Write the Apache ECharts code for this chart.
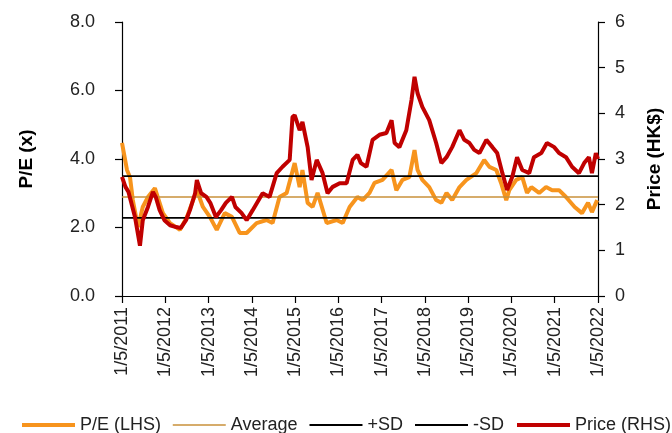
<!DOCTYPE html>
<html>
<head>
<meta charset="utf-8">
<script src="https://cdn.jsdelivr.net/npm/echarts@6/dist/echarts.min.js"></script>
<style>
html,body{margin:0;padding:0;background:#fff;}
#chart{width:672px;height:433px;}
</style>
</head>
<body>
<div id="chart"></div>
<script>
// ---- data (x = years since 1/5/2011) ----
const xTickLabels = ['1/5/2011','1/5/2012','1/5/2013','1/5/2014','1/5/2015','1/5/2016','1/5/2017','1/5/2018','1/5/2019','1/5/2020','1/5/2021','1/5/2022'];

const peYears = [0.00,0.115,0.185,0.25,0.37,0.48,0.60,0.76,0.945,1.11,1.34,1.50,1.73,1.87,2.03,2.19,2.375,2.54,2.72,2.88,3.11,3.34,3.48,3.64,3.805,3.99,4.105,4.17,4.29,4.405,4.52,4.73,4.96,5.10,5.26,5.44,5.56,5.72,5.835,6.02,6.23,6.34,6.48,6.64,6.76,6.83,6.94,7.10,7.26,7.38,7.50,7.63,7.80,7.96,8.19,8.37,8.49,8.65,8.76,8.88,8.95,9.11,9.25,9.36,9.46,9.64,9.80,9.94,10.10,10.26,10.46,10.63,10.77,10.86,10.98];
const peValues = [4.47,3.68,3.47,2.80,2.01,2.60,2.89,3.15,2.42,2.13,1.93,2.31,3.09,2.60,2.31,1.93,2.42,2.31,1.84,1.84,2.13,2.22,2.13,2.89,3.01,3.88,3.18,3.68,2.72,2.60,3.01,2.13,2.22,2.13,2.60,2.89,2.80,3.01,3.30,3.39,3.68,3.09,3.39,3.47,4.26,3.68,3.39,3.18,2.80,2.72,3.01,2.80,3.18,3.39,3.59,3.97,3.77,3.68,3.30,2.80,3.09,3.39,3.47,3.01,3.18,3.01,3.18,3.09,3.09,2.89,2.60,2.42,2.72,2.45,2.80];

const priceYears = [0.00,0.08,0.15,0.21,0.30,0.415,0.48,0.60,0.715,0.78,0.87,0.98,1.11,1.25,1.36,1.48,1.57,1.69,1.73,1.83,1.95,2.04,2.17,2.29,2.40,2.54,2.62,2.76,2.88,3.02,3.25,3.41,3.575,3.71,3.875,3.94,3.99,4.105,4.17,4.29,4.38,4.50,4.635,4.75,4.87,5.03,5.19,5.33,5.44,5.52,5.65,5.79,5.95,6.11,6.23,6.30,6.41,6.57,6.69,6.76,6.83,6.94,7.10,7.26,7.38,7.50,7.63,7.80,7.91,8.03,8.14,8.26,8.42,8.56,8.67,8.79,8.90,9.02,9.13,9.25,9.41,9.52,9.69,9.82,9.99,10.10,10.26,10.40,10.56,10.68,10.79,10.86,10.95,11.0];
const priceValues = [2.61,2.39,2.28,2.06,1.73,1.10,1.66,1.95,2.28,2.17,1.88,1.66,1.55,1.51,1.49,1.66,1.88,2.25,2.54,2.25,2.17,2.04,1.73,1.88,2.04,2.17,1.95,1.82,1.66,1.88,2.25,2.17,2.69,2.83,2.98,3.92,3.96,3.63,3.81,3.26,2.54,2.98,2.69,2.25,2.39,2.47,2.47,2.98,3.09,2.91,2.83,3.42,3.53,3.57,3.85,3.35,3.26,3.63,4.29,4.80,4.44,4.14,3.85,3.35,2.91,3.04,3.26,3.63,3.42,3.35,3.20,3.13,3.42,3.26,3.13,2.69,2.32,2.61,3.04,2.76,2.69,3.04,3.13,3.35,3.26,3.13,3.04,2.83,2.69,2.91,3.04,2.69,3.13,3.00];

const peAverage = 2.89;
const pePlusSD = 3.50;
const peMinusSD = 2.28;

// ---- chart ----
const FONT = "'Liberation Sans', Arial, sans-serif";
const pair = (xs, vs) => xs.map((x, i) => [x, vs[i]]);
const flat = v => [[0, v], [11, v]];

const chart = echarts.init(document.getElementById('chart'), null, {renderer: 'canvas'});
chart.setOption({
  animation: false,
  backgroundColor: '#fff',
  textStyle: {fontFamily: FONT},
  grid: {left: 122, right: 73, top: 22, bottom: 137, containLabel: false},
  legend: {
    left: 15, top: 411, width: 1200,
    itemWidth: 53, itemHeight: 14, itemGap: 11,
    itemStyle: {opacity: 0},
    textStyle: {fontFamily: FONT, fontSize: 18, color: '#222'},
    data: [
      {name: 'P/E (LHS)', lineStyle: {width: 4}},
      {name: 'Average', lineStyle: {width: 1.5}},
      {name: '+SD', lineStyle: {width: 2}},
      {name: '-SD', lineStyle: {width: 2}},
      {name: 'Price (RHS)', lineStyle: {width: 4}}
    ]
  },
  xAxis: {
    type: 'value', min: 0, max: 11, interval: 1,
    axisLine: {show: true, lineStyle: {color: '#000', width: 1.2}},
    axisTick: {show: true, inside: false, length: 7, lineStyle: {color: '#000', width: 1.2}},
    splitLine: {show: false},
    axisLabel: {
      rotate: 90, margin: 11, fontSize: 18, color: '#222', fontFamily: FONT,
      formatter: v => xTickLabels[Math.round(v)]
    }
  },
  yAxis: [
    {
      type: 'value', min: 0, max: 8, interval: 2, position: 'left',
      name: 'P/E (x)', nameLocation: 'middle', nameGap: 86, nameRotate: 90,
      nameTextStyle: {fontFamily: FONT, fontSize: 19, fontWeight: 'bold', color: '#000'},
      axisLine: {show: true, lineStyle: {color: '#000', width: 1.2}},
      axisTick: {show: true, inside: false, length: 7, lineStyle: {color: '#000', width: 1.2}},
      splitLine: {show: false},
      axisLabel: {margin: 27, fontSize: 18, color: '#222', fontFamily: FONT, formatter: v => v.toFixed(1)}
    },
    {
      type: 'value', min: 0, max: 6, interval: 1, position: 'right',
      name: 'Price (HK$)', nameLocation: 'middle', nameGap: 47, nameRotate: 90,
      nameTextStyle: {fontFamily: FONT, fontSize: 19, fontWeight: 'bold', color: '#000'},
      axisLine: {show: true, lineStyle: {color: '#000', width: 1.2}},
      axisTick: {show: true, inside: false, length: 7, lineStyle: {color: '#000', width: 1.2}},
      splitLine: {show: false},
      axisLabel: {margin: 17, fontSize: 18, color: '#222', fontFamily: FONT}
    }
  ],
  series: [
    {name: 'P/E (LHS)', type: 'line', yAxisIndex: 0, showSymbol: false, symbol: 'none',
     data: pair(peYears, peValues), lineStyle: {color: '#F7941D', width: 4}, itemStyle: {color: '#F7941D'}},
    {name: 'Average', type: 'line', yAxisIndex: 0, showSymbol: false, symbol: 'none',
     data: flat(peAverage), lineStyle: {color: '#C8913A', width: 1.5}, itemStyle: {color: '#C8913A'}},
    {name: '+SD', type: 'line', yAxisIndex: 0, showSymbol: false, symbol: 'none',
     data: flat(pePlusSD), lineStyle: {color: '#000', width: 1.8}, itemStyle: {color: '#000'}},
    {name: '-SD', type: 'line', yAxisIndex: 0, showSymbol: false, symbol: 'none',
     data: flat(peMinusSD), lineStyle: {color: '#000', width: 1.8}, itemStyle: {color: '#000'}},
    {name: 'Price (RHS)', type: 'line', yAxisIndex: 1, showSymbol: false, symbol: 'none',
     data: pair(priceYears, priceValues), lineStyle: {color: '#C00000', width: 4}, itemStyle: {color: '#C00000'}}
  ]
});
</script>
</body>
</html>
